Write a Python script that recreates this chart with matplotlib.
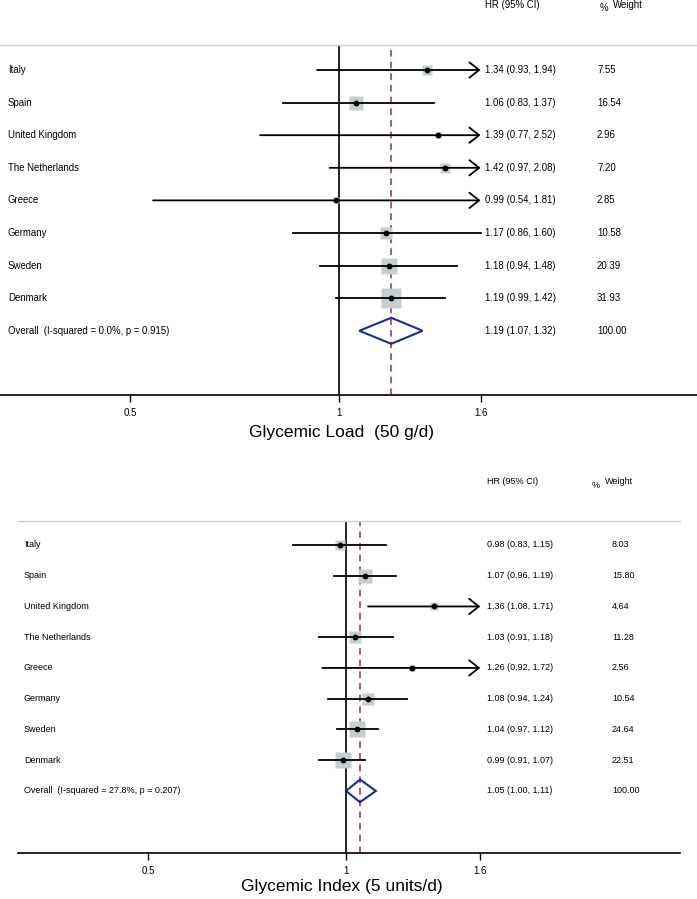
import matplotlib.pyplot as plt
import matplotlib.transforms as mtransforms
import numpy as np

plt.rcParams['font.family'] = ['Liberation Sans', 'DejaVu Sans']

countries = ['Italy', 'Spain', 'United Kingdom', 'The Netherlands', 'Greece',
             'Germany', 'Sweden', 'Denmark']

gl_hr = [1.34, 1.06, 1.39, 1.42, 0.99, 1.17, 1.18, 1.19]
gl_lo = [0.93, 0.83, 0.77, 0.97, 0.54, 0.86, 0.94, 0.99]
gl_hi = [1.94, 1.37, 2.52, 2.08, 1.81, 1.60, 1.48, 1.42]
gl_wt = [7.55, 16.54, 2.96, 7.20, 2.85, 10.58, 20.39, 31.93]
gl_overall = (1.19, 1.07, 1.32)
gl_het = 'Overall  (I-squared = 0.0%, p = 0.915)'

gi_hr = [0.98, 1.07, 1.36, 1.03, 1.26, 1.08, 1.04, 0.99]
gi_lo = [0.83, 0.96, 1.08, 0.91, 0.92, 0.94, 0.97, 0.91]
gi_hi = [1.15, 1.19, 1.71, 1.18, 1.72, 1.24, 1.12, 1.07]
gi_wt = [8.03, 15.80, 4.64, 11.28, 2.56, 10.54, 24.64, 22.51]
gi_overall = (1.05, 1.00, 1.11)
gi_het = 'Overall  (I-squared = 27.8%, p = 0.207)'

ticks = [0.5, 1, 1.6]
tick_labels = ['0.5', '1', '1.6']
clip_hi = 1.6

W, H = 697, 899
fig = plt.figure(figsize=(W / 100, H / 100), dpi=100)


def forest(rect, xlim, ylim, hr, lo, hi, wt, overall, het, xlabel,
           name_x, hr_x, wt_x, pct_x, head_y, sq_scale, dia_h, fs, label_y):
    ax = fig.add_axes(rect)
    ax.set_xscale('log')
    ax.set_xlim(*xlim)
    ax.set_ylim(*ylim)
    for s in ['left', 'right']:
        ax.spines[s].set_visible(False)
    ax.spines['top'].set_color('#c9d3d3')
    ax.spines['top'].set_linewidth(1.0)
    ax.spines['bottom'].set_linewidth(1.2)
    ax.set_yticks([])
    ax.set_xticks(ticks)
    ax.set_xticklabels(tick_labels, fontsize=7)
    ax.minorticks_off()
    ax.tick_params(axis='x', length=5, width=1, pad=4)

    tr = mtransforms.blended_transform_factory(fig.transFigure, ax.transData)

    ax.axvline(1, color='black', lw=1.2, zorder=1)
    ax.axvline(overall[0], color='#a0404e', lw=1.2, ls=(0, (4, 3)), zorder=1)

    ys = np.arange(1, len(countries) + 1)
    for y, name, h, l, u, w in zip(ys, countries, hr, lo, hi, wt):
        ax.plot(h, y, 's', color='#c5cfcf', ms=sq_scale * np.sqrt(w), mec='none', zorder=2)
        if u > clip_hi:
            ax.annotate('', xy=(clip_hi, y), xytext=(l, y),
                        arrowprops=dict(arrowstyle='->,head_length=0.7,head_width=0.55',
                                        lw=1.3, color='black', shrinkA=0, shrinkB=0),
                        zorder=3)
        else:
            ax.plot([l, u], [y, y], color='black', lw=1.3, zorder=3)
        ax.plot(h, y, 'o', color='black', ms=3.2, zorder=4)
        ax.text(name_x / W, y, name, transform=tr, fontsize=fs, va='center', ha='left')
        ax.text(hr_x / W, y, f'{h:.2f} ({l:.2f}, {u:.2f})', transform=tr,
                fontsize=fs, va='center', ha='left')
        ax.text(wt_x / W, y, f'{w:.2f}', transform=tr, fontsize=fs, va='center', ha='left')

    yo = len(countries) + 1
    h, l, u = overall
    ax.fill([l, h, u, h, l], [yo, yo - dia_h, yo, yo + dia_h, yo], fill=False,
            edgecolor='#1f2a96', lw=1.5, zorder=3)
    ax.text(name_x / W, yo, het, transform=tr, fontsize=fs, va='center', ha='left')
    ax.text(hr_x / W, yo, f'{h:.2f} ({l:.2f}, {u:.2f})', transform=tr,
            fontsize=fs, va='center', ha='left')
    ax.text(wt_x / W, yo, '100.00', transform=tr, fontsize=fs, va='center', ha='left')

    ax.text(hr_x / W, head_y, 'HR (95% CI)', transform=tr, fontsize=fs, va='center', ha='left')
    ax.text(pct_x / W, head_y + 0.1, '%', transform=tr, fontsize=fs, va='center', ha='left')
    ax.text((pct_x + 13) / W, head_y, 'Weight', transform=tr, fontsize=fs, va='center', ha='left')

    fig.text(0.49, 1 - label_y / H, xlabel, fontsize=12.5, ha='center', va='center')
    return ax


forest([0, 1 - 395 / H, 1, 350 / H], (0.325, 3.28), (10.97, 0.233),
       gl_hr, gl_lo, gl_hi, gl_wt, gl_overall, gl_het, 'Glycemic Load  (50 g/d)',
       8, 485, 597, 600, -0.99, 2.5, 0.4, 6.9, 433)

forest([18 / W, 1 - 853 / H, 662 / W, 332 / H], (0.317, 3.22), (11.02, 0.22),
       gi_hr, gi_lo, gi_hi, gi_wt, gi_overall, gi_het, 'Glycemic Index (5 units/d)',
       24, 487, 612, 592, -1.05, 2.45, 0.37, 6.5, 886)

fig.savefig('out.png', dpi=100)
